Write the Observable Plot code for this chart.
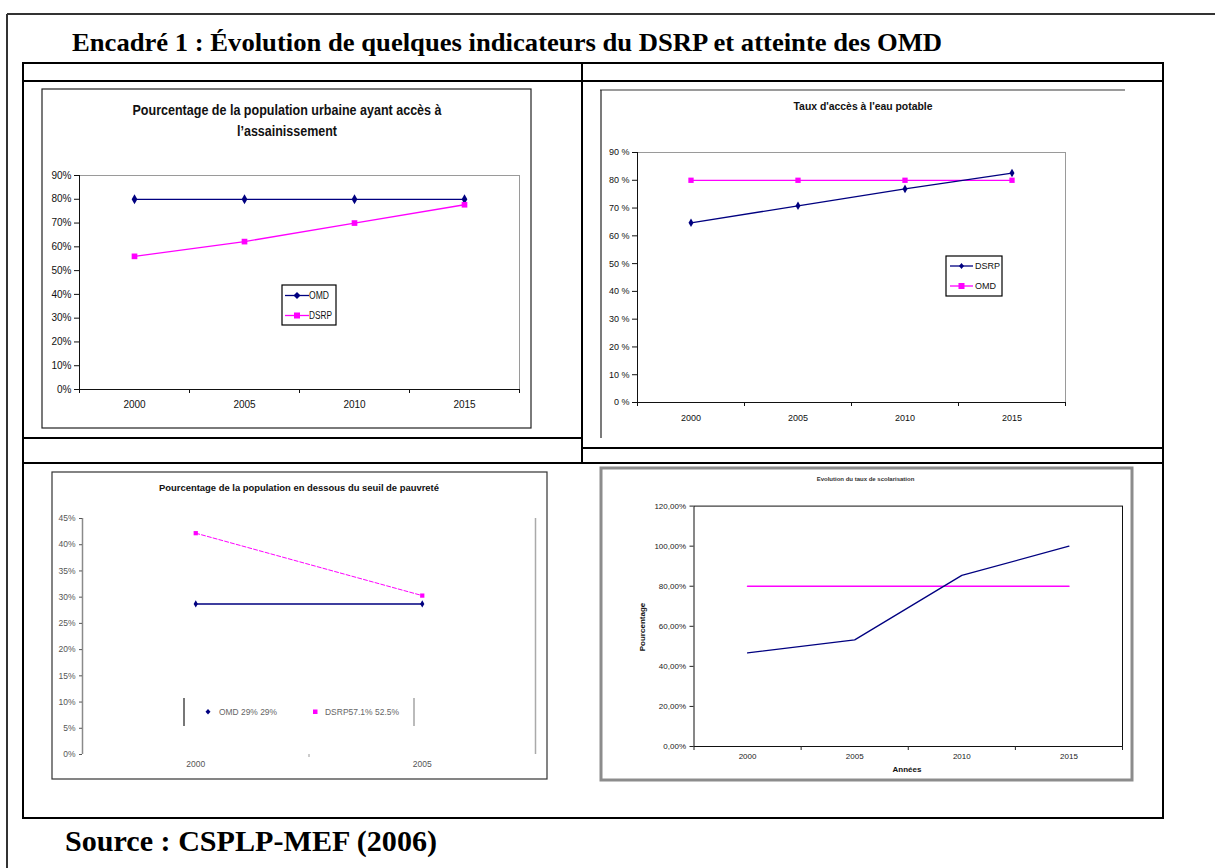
<!DOCTYPE html>
<html>
<head>
<meta charset="utf-8">
<script src="https://cdn.jsdelivr.net/npm/d3@7"></script>
<script src="https://cdn.jsdelivr.net/npm/@observablehq/plot@0.6"></script>
<style>
  body { margin: 0; background: #fff; }
  #page { position: relative; width: 1215px; height: 868px; background: #fff; overflow: hidden; }
  .chart { position: absolute; }
  .chart svg { overflow: visible; }
  #overlay { position: absolute; left: 0; top: 0; pointer-events: none; }
</style>
</head>
<body>
<div id="page"></div>
<script>
// ---------------- DATA ----------------
const years = [2000, 2005, 2010, 2015];
// Chart 1 : population urbaine ayant accès à l'assainissement (%)
const assainOMD = [80, 80, 80, 80];
const assainDSRP = [56, 62.2, 70, 77.7];
// Chart 2 : taux d'accès à l'eau potable (%)
const eauDSRP = [64.7, 70.8, 76.9, 82.6];
const eauOMD = [80, 80, 80, 80];
// Chart 3 : population en dessous du seuil de pauvreté (%)
const pauvYears = [2000, 2005];
const pauvOMD = [28.7, 28.7];
const pauvDSRP = [42.2, 30.3];
// Chart 4 : taux de scolarisation (%)
const scolDSRP = [46.7, 53.2, 85.4, 100];
const scolOMD = [80, 80, 80, 80];
// Tick labels
const yTicks1 = [0, 10, 20, 30, 40, 50, 60, 70, 80, 90];
const yTicks3 = [0, 5, 10, 15, 20, 25, 30, 35, 40, 45];
const yTicks4 = [0, 20, 40, 60, 80, 100, 120];
// Texts
const mainTitle = "Encadré 1 : Évolution de quelques indicateurs du DSRP et atteinte des OMD";
const sourceText = "Source : CSPLP-MEF (2006)";
const title1a = "Pourcentage de la population urbaine ayant accès à";
const title1b = "l\u2019assainissement";
const title2 = "Taux d'accès à l'eau potable";
const title3 = "Pourcentage  de la population en dessous du seuil de pauvreté";
const title4 = "Evolution du taux de scolarisation";
const legend3 = ["OMD 29% 29%", "DSRP57.1% 52.5%"];

// ---------------- HELPERS ----------------
const NAVY = "#000080", MAG = "#ff00ff";
const narrow = "'Liberation Sans Narrow', 'Arial Narrow', 'Liberation Sans', Arial, sans-serif";
const sans = "'Liberation Sans', Arial, sans-serif";
const serif = "'Liberation Serif', 'Times New Roman', serif";
const page = document.getElementById("page");
function place(svg, left, top) {
  const d = document.createElement("div");
  d.className = "chart";
  d.style.left = left + "px";
  d.style.top = top + "px";
  d.appendChild(svg);
  page.appendChild(d);
}
const rows = (xs, a, b) => xs.map((x, i) => ({year: x, a: a[i], b: b[i]}));
const bounds = (xs) => [...xs.map(x => x - 2.5), xs[xs.length - 1] + 2.5];

// ---------------- CHART 1 ----------------
{
  const data = rows(years, assainOMD, assainDSRP);
  const svg = Plot.plot({
    width: 489, height: 339,
    marginLeft: 37, marginRight: 12, marginTop: 86, marginBottom: 39,
    x: {type: "linear", domain: [1997.5, 2017.5]},
    y: {domain: [0, 90]},
    style: {fontFamily: narrow, fontSize: "10px", background: "transparent", color: "#111"},
    marks: [
      Plot.ruleY([90], {stroke: "#9a9a9a"}),
      Plot.ruleX([2017.5], {stroke: "#9a9a9a"}),
      Plot.axisY({ticks: yTicks1, tickFormat: d => d + "%", tickSize: 5, tickPadding: 3, label: null}),
      Plot.axisX({ticks: bounds(years), tickFormat: () => "", tickSize: 4, label: null}),
      Plot.axisX({ticks: years, tickFormat: d => String(d), tickSize: 0, tickPadding: 11, label: null}),
      Plot.ruleX([1997.5], {stroke: "#111"}),
      Plot.ruleY([0], {stroke: "#111"}),
      Plot.line(data, {x: "year", y: "a", stroke: NAVY, strokeWidth: 1.3}),
      Plot.dot(data, {x: "year", y: "a", symbol: "diamond", fill: NAVY, r: 3}),
      Plot.line(data, {x: "year", y: "b", stroke: MAG, strokeWidth: 1.3}),
      Plot.dot(data, {x: "year", y: "b", symbol: "square", fill: MAG, r: 3.2})
    ]
  });
  place(svg, 42, 89);
}

// ---------------- CHART 2 ----------------
{
  const data = rows(years, eauDSRP, eauOMD);
  const svg = Plot.plot({
    width: 525, height: 348,
    marginLeft: 37, marginRight: 60, marginTop: 62, marginBottom: 36,
    x: {type: "linear", domain: [1997.5, 2017.5]},
    y: {domain: [0, 90]},
    style: {fontFamily: narrow, fontSize: "9px", background: "transparent", color: "#111"},
    marks: [
      Plot.ruleY([90], {stroke: "#9a9a9a"}),
      Plot.ruleX([2017.5], {stroke: "#9a9a9a"}),
      Plot.axisY({ticks: yTicks1, tickFormat: d => d + " %", tickSize: 5, tickPadding: 3, label: null}),
      Plot.axisX({ticks: bounds(years), tickFormat: () => "", tickSize: 4, label: null}),
      Plot.axisX({ticks: years, tickFormat: d => String(d), tickSize: 0, tickPadding: 12, label: null}),
      Plot.ruleX([1997.5], {stroke: "#111"}),
      Plot.ruleY([0], {stroke: "#111"}),
      Plot.line(data, {x: "year", y: "b", stroke: MAG, strokeWidth: 1.3}),
      Plot.dot(data, {x: "year", y: "b", symbol: "square", fill: MAG, r: 3}),
      Plot.line(data, {x: "year", y: "a", stroke: NAVY, strokeWidth: 1.3}),
      Plot.dot(data, {x: "year", y: "a", symbol: "diamond", fill: NAVY, r: 2.6})
    ]
  });
  place(svg, 600, 90);
}

// ---------------- CHART 3 ----------------
{
  const data = rows(pauvYears, pauvOMD, pauvDSRP);
  const svg = Plot.plot({
    width: 495, height: 307,
    marginLeft: 30, marginRight: 12, marginTop: 46, marginBottom: 25,
    x: {type: "linear", domain: [1997.5, 2007.5]},
    y: {domain: [0, 45]},
    style: {fontFamily: sans, fontSize: "8.5px", background: "transparent", color: "#555"},
    marks: [
      Plot.ruleX([1997.5], {stroke: "#8a8a8a", strokeWidth: 1.5}),
      Plot.ruleX([2007.5], {stroke: "#aaa", strokeWidth: 1.5}),
      Plot.axisY({ticks: yTicks3, tickFormat: d => d + "%", tickSize: 3, tickPadding: 4, label: null}),
      Plot.axisX({ticks: [2002.5], tickFormat: () => "", tickSize: 3, label: null, stroke: "#999"}),
      Plot.axisX({ticks: pauvYears, tickFormat: d => String(d), tickSize: 0, tickPadding: 6, label: null}),
      Plot.line(data, {x: "year", y: "a", stroke: NAVY, strokeWidth: 1.3}),
      Plot.dot(data, {x: "year", y: "a", symbol: "diamond", fill: NAVY, r: 2.2}),
      Plot.line(data, {x: "year", y: "b", stroke: MAG, strokeWidth: 1, strokeDasharray: "4,2"}),
      Plot.dot(data, {x: "year", y: "b", symbol: "square", fill: MAG, r: 2.4})
    ]
  });
  place(svg, 52, 472);
}

// ---------------- CHART 4 ----------------
{
  const data = rows(years, scolDSRP, scolOMD);
  const svg = Plot.plot({
    width: 529, height: 310,
    marginLeft: 91.5, marginRight: 9, marginTop: 36.6, marginBottom: 33,
    x: {type: "linear", domain: [1997.5, 2017.5]},
    y: {domain: [0, 120]},
    style: {fontFamily: sans, fontSize: "8px", background: "transparent", color: "#222"},
    marks: [
      Plot.frame({stroke: "#111"}),
      Plot.axisY({ticks: yTicks4, tickFormat: d => d.toFixed(2).replace(".", ",") + "%", tickSize: 4, tickPadding: 4, label: null}),
      Plot.axisX({ticks: bounds(years), tickFormat: () => "", tickSize: 4, label: null}),
      Plot.axisX({ticks: years, tickFormat: d => String(d), tickSize: 0, tickPadding: 7, label: null}),
      Plot.line(data, {x: "year", y: "b", stroke: MAG, strokeWidth: 1.6}),
      Plot.line(data, {x: "year", y: "a", stroke: NAVY, strokeWidth: 1.3})
    ]
  });
  place(svg, 602, 469);
}

// ---------------- OVERLAY (frames, titles, legends) ----------------
const ov = d3.select(page).append("svg").attr("id", "overlay").attr("width", 1215).attr("height", 868);
function line(x1, y1, x2, y2, stroke = "#000", w = 2) {
  ov.append("line").attr("x1", x1).attr("y1", y1).attr("x2", x2).attr("y2", y2)
    .attr("stroke", stroke).attr("stroke-width", w);
}
function rect(x, y, w, h, stroke, sw, fill = "none") {
  ov.append("rect").attr("x", x).attr("y", y).attr("width", w).attr("height", h)
    .attr("fill", fill).attr("stroke", stroke).attr("stroke-width", sw);
}
function text(t, x, y, opts = {}) {
  const e = ov.append("text").attr("x", x).attr("y", y).text(t)
    .attr("font-family", opts.family || sans)
    .attr("font-size", opts.size || 10)
    .attr("font-weight", opts.weight || "normal")
    .attr("fill", opts.fill || "#111")
    .attr("text-anchor", opts.anchor || "start");
  if (opts.len) e.attr("textLength", opts.len).attr("lengthAdjust", "spacingAndGlyphs");
  if (opts.transform) e.attr("transform", opts.transform);
  return e;
}
// outer frame
line(7, 14, 1215, 14, "#333", 2);
line(7, 14, 7, 868, "#333", 2);
// table
line(23, 63, 1164, 63);
line(23, 81, 1164, 81);
line(23, 463, 1164, 463);
line(23, 818, 1164, 818);
line(23, 62, 23, 819);
line(1163, 62, 1163, 819);
line(582, 63, 582, 463);
line(23, 438, 582, 438);
line(582, 448, 1163, 448);

// main title & source
text(mainTitle, 72, 51, {family: serif, size: 25, weight: "bold", fill: "#000", len: 870});
text(sourceText, 65, 851, {family: serif, size: 29, weight: "bold", fill: "#000", len: 372});

// chart 1 frame, title, legend
rect(42, 89, 489, 339, "#222", 1.2);
text(title1a, 287, 115, {family: narrow, size: 14, weight: "bold", anchor: "middle", len: 309});
text(title1b, 287, 136, {family: narrow, size: 14, weight: "bold", anchor: "middle", len: 100});
rect(282, 285, 54, 40, "#000", 1.2, "#fff");
line(285, 295.5, 309, 295.5, NAVY, 1.3);
ov.append("path").attr("d", "M297,292 L300.5,295.5 L297,299 L293.5,295.5 Z").attr("fill", NAVY);
text("OMD", 309, 299, {family: narrow, size: 10, len: 20});
line(285, 315.5, 309, 315.5, MAG, 1.3);
rect(294, 312.5, 6, 6, "none", 0, MAG);
text("DSRP", 309, 319, {family: narrow, size: 10, len: 23});

// chart 2 frame, title, legend
line(600, 90, 1125, 90, "#9a9a9a", 2);
line(601, 90, 601, 438, "#222", 1.2);
text(title2, 863, 110, {family: narrow, size: 10, weight: "bold", anchor: "middle", len: 139});
rect(946, 256, 56, 40, "#000", 1.2, "#fff");
line(950, 266, 973, 266, NAVY, 1.3);
ov.append("path").attr("d", "M961.5,263 L964,266 L961.5,269 L959,266 Z").attr("fill", NAVY);
text("DSRP", 975, 269, {family: narrow, size: 9});
line(950, 286, 973, 286, MAG, 1.3);
rect(958.5, 283, 6, 6, "none", 0, MAG);
text("OMD", 975, 289, {family: narrow, size: 9});

// chart 3 frame, title, legend
rect(52, 472, 495, 307, "#333", 1.2);
text(title3, 299, 491, {family: sans, size: 8.8, weight: "bold", anchor: "middle", len: 280});
line(184, 698, 184, 726, "#777", 2);
line(414, 698, 414, 726, "#bbb", 2);
ov.append("path").attr("d", "M208,709 L210.5,711.7 L208,714.4 L205.5,711.7 Z").attr("fill", NAVY);
text(legend3[0], 219, 715, {family: sans, size: 9, fill: "#666", len: 58});
rect(313, 709.5, 4.5, 4.5, "none", 0, MAG);
text(legend3[1], 325, 715, {family: sans, size: 9, fill: "#666", len: 74});

// chart 4 frame & titles
rect(601, 468, 531, 312, "#8c8c8c", 3);
text(title4, 865.5, 481, {family: sans, size: 6, weight: "bold", anchor: "middle", fill: "#333"});
text("Années", 907, 772, {family: sans, size: 8, weight: "bold", anchor: "middle"});
text("Pourcentage", 0, 0, {family: sans, size: 8, weight: "bold", anchor: "middle", transform: "translate(644.5,627) rotate(-90)"});
</script>
</body>
</html>
